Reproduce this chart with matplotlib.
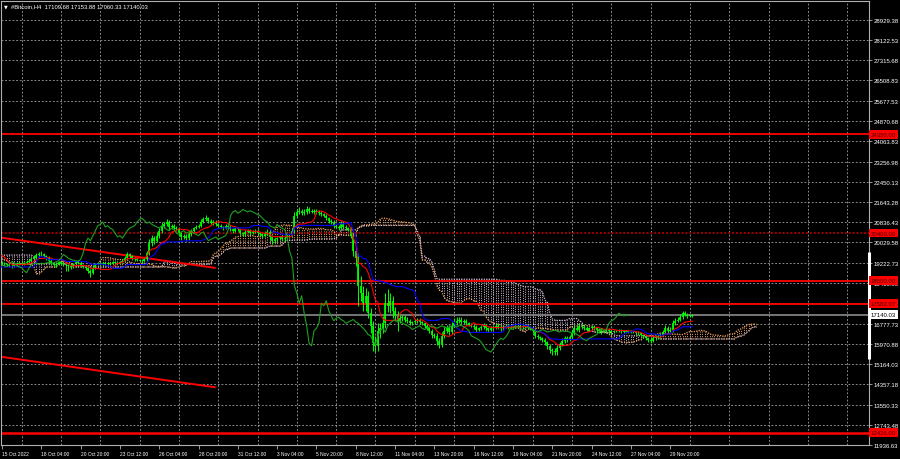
import numpy as np
import pandas as pd
import matplotlib
matplotlib.use('Agg')
import matplotlib.pyplot as plt
import matplotlib.transforms as mtransforms
from matplotlib import font_manager

# narrow terminal-like font if we have one
_names = {f.name for f in font_manager.fontManager.ttflist}
if 'Liberation Sans Narrow' in _names:
    FONT, FS_Y, FS_X, FS_T = 'Liberation Sans Narrow', 5.0, 4.0, 5.0
else:
    FONT, FS_Y, FS_X, FS_T = 'Liberation Sans', 4.3, 3.5, 4.2
plt.rcParams['font.family'] = [FONT, 'DejaVu Sans']

# ---------------- data ----------------
symbol = '#Bitcoin,H4'
last_ohlc = [17109.68, 17153.88, 17060.33, 17140.03]

start_time = '2022-10-15 12:00'   # first visible H4 bar
first_open = 19210.0

close = [
    19180, 19150, 19120, 19100, 19080, 19130, 19180, 19220, 19170, 19200, 19240, 19300, 19350, 19420, 19520, 19580,
    19550, 19480, 19420, 19300, 19200, 19120, 19180, 19230, 19210, 19150, 19120, 19100, 19060, 19150, 19260, 19220,
    19100, 19050, 19020, 18900, 18820, 19000, 19150, 19180, 19200, 19160, 19200, 19180, 19210, 19230, 19190, 19220,
    19250, 19300, 19400, 19550, 19480, 19400, 19350, 19320, 19300, 19280, 19350, 19600, 20000, 20200, 20100, 20300,
    20500, 20700, 20750, 20850, 20650, 20700, 20600, 20550, 20400, 20250, 20300, 20200, 20350, 20500, 20600, 20650,
    20700, 20850, 20950, 21000, 20900, 20800, 20850, 20750, 20700, 20650, 20600, 20700, 20650, 20550, 20500, 20600,
    20550, 20400, 20350, 20450, 20500, 20400, 20450, 20500, 20400, 20350, 20300, 20400, 20450, 20250, 20100, 20150,
    20200, 20250, 20150, 20200, 20250, 20300, 20500, 21100, 21250, 21300, 21200, 21250, 21350, 21300, 21250, 21300,
    21250, 21200, 21150, 21100, 21000, 20900, 20850, 20700, 20650, 20600, 20750, 20650, 20600, 20550, 20300, 19700,
    19400, 18300, 18000, 17600, 17900, 17200, 16700, 16000, 15900, 16500, 16600, 16800, 17600, 17500, 17700, 17300,
    17100, 16900, 17000, 17050, 16950, 16900, 16800, 16850, 16900, 16950, 16850, 16800, 16700, 16600, 16500, 16350,
    16300, 16100, 15950, 16300, 16500, 16600, 16450, 16700, 16800, 16900, 16950, 16850, 16900, 16800, 16750, 16700,
    16650, 16550, 16600, 16650, 16700, 16600, 16550, 16600, 16650, 16700, 16650, 16600, 16650, 16700, 16650, 16620,
    16650, 16700, 16680, 16650, 16700, 16720, 16650, 16600, 16500, 16300, 16250, 16200, 16150, 16050, 15900, 15750,
    15700, 15650, 15800, 15950, 16100, 16200, 16150, 16250, 16400, 16600, 16550, 16700, 16650, 16600, 16550, 16600,
    16650, 16600, 16550, 16500, 16450, 16500, 16550, 16500, 16450, 16480, 16500, 16520, 16480, 16450, 16500, 16470,
    16480, 16450, 16400, 16420, 16350, 16300, 16200, 16150, 16100, 16200, 16250, 16300, 16350, 16450, 16600, 16500,
    16550, 16800, 16900, 16950, 17050, 17200, 17150, 17100, 17109.68, 17140.03,
]

wick_up = [
    60, 50, 40, 60, 50, 70, 60, 80, 50, 60, 70, 60, 80, 90, 100, 80,
    90, 70, 60, 80, 60, 50, 70, 60, 50, 60, 50, 40, 60, 70, 80, 60,
    60, 50, 40, 50, 60, 80, 70, 60, 50, 40, 50, 40, 50, 60, 40, 50,
    50, 60, 80, 90, 60, 50, 40, 50, 40, 50, 60, 100, 150, 120, 100, 150,
    120, 150, 100, 120, 80, 70, 60, 80, 60, 50, 70, 60, 80, 70, 60, 80,
    80, 100, 90, 120, 60, 50, 70, 60, 50, 60, 50, 70, 50, 60, 50, 60,
    60, 50, 60, 70, 80, 60, 70, 60, 50, 60, 50, 80, 120, 100, 60, 50,
    60, 50, 70, 50, 60, 80, 100, 150, 120, 150, 80, 100, 120, 80, 70, 60,
    80, 60, 70, 50, 60, 50, 70, 60, 50, 60, 120, 80, 70, 60, 80, 150,
    100, 200, 400, 300, 300, 200, 200, 200, 300, 300, 200, 300, 400, 580, 300, 200,
    150, 200, 120, 100, 80, 100, 80, 60, 70, 80, 60, 50, 60, 70, 60, 80,
    80, 100, 120, 150, 200, 150, 120, 150, 200, 150, 120, 100, 80, 70, 60, 80,
    80, 70, 60, 90, 100, 70, 60, 80, 90, 100, 60, 50, 70, 80, 60, 50,
    50, 60, 40, 50, 60, 50, 40, 50, 60, 50, 60, 50, 60, 70, 60, 80,
    80, 100, 120, 100, 120, 100, 80, 100, 150, 120, 100, 120, 80, 70, 80, 60,
    80, 70, 60, 50, 60, 70, 80, 60, 50, 40, 50, 60, 50, 40, 50, 40,
    50, 60, 50, 60, 50, 40, 60, 50, 70, 80, 70, 60, 80, 100, 120, 80,
    100, 150, 120, 100, 120, 100, 80, 70, 60, 13.85,
]

wick_dn = [
    50, 60, 50, 40, 70, 50, 60, 40, 60, 50, 40, 60, 50, 60, 50, 60,
    70, 60, 80, 60, 70, 90, 60, 50, 70, 80, 250, 200, 80, 60, 50, 70,
    70, 60, 80, 100, 170, 60, 50, 40, 50, 60, 40, 50, 40, 50, 60, 40,
    40, 50, 60, 50, 60, 70, 50, 40, 50, 60, 40, 50, 80, 100, 120, 60,
    100, 80, 90, 70, 120, 80, 90, 60, 100, 120, 80, 100, 60, 70, 60, 50,
    60, 70, 50, 60, 80, 70, 60, 80, 50, 60, 70, 50, 60, 70, 80, 50,
    70, 80, 60, 50, 60, 70, 50, 60, 70, 60, 80, 50, 60, 120, 150, 80,
    80, 60, 70, 60, 50, 60, 70, 100, 80, 70, 90, 60, 70, 80, 60, 70,
    70, 80, 60, 70, 80, 90, 70, 80, 60, 70, 60, 80, 70, 60, 90, 200,
    300, 800, 300, 300, 300, 200, 300, 300, 250, 200, 300, 200, 200, 250, 300, 300,
    200, 400, 100, 120, 80, 90, 70, 80, 60, 70, 80, 60, 70, 80, 90, 120,
    100, 150, 150, 100, 80, 100, 120, 80, 60, 80, 100, 70, 60, 80, 70, 60,
    70, 100, 60, 70, 80, 90, 100, 60, 70, 60, 80, 90, 60, 50, 70, 60,
    40, 50, 60, 40, 50, 60, 70, 60, 80, 100, 80, 70, 80, 100, 120, 150,
    150, 120, 100, 80, 60, 80, 90, 70, 80, 60, 70, 80, 90, 60, 70, 60,
    60, 70, 80, 70, 60, 50, 60, 70, 60, 50, 40, 50, 60, 50, 40, 50,
    60, 50, 70, 50, 60, 70, 80, 100, 80, 60, 50, 60, 50, 60, 70, 80,
    60, 80, 70, 60, 50, 80, 60, 70, 50, 49.35,
]

# history before the visible window (6 Oct 20:00 .. 15 Oct 08:00), needed by the Ichimoku
pre_high = [20150,
            20050, 20000, 19900, 19700, 19550, 19500,
            19500, 19480, 19550, 19600, 19520, 19480,
            19450, 19500, 19480, 19470, 19500, 19520,
            19550, 19480, 19400, 19300, 19250, 19200,
            19150, 19100, 19050, 19100, 19150, 19130,
            19150, 19200, 19180, 19150, 19100, 19120,
            19150, 19100, 19050, 18900, 19200, 19500,
            19700, 19900, 19800, 19600, 19400, 19300,
            19250, 19230, 19220]
pre_low = [19950,
           19900, 19850, 19650, 19450, 19350, 19300,
           19350, 19380, 19420, 19450, 19400, 19350,
           19350, 19380, 19370, 19380, 19400, 19420,
           19400, 19300, 19200, 19100, 19080, 19050,
           18950, 18900, 18950, 18980, 19000, 19020,
           19050, 19050, 19080, 19050, 19000, 19020,
           19000, 18950, 18700, 18200, 18600, 19100,
           19400, 19600, 19500, 19300, 19150, 19100,
           19100, 19120, 19110]

date_labels = ['15 Oct 2022', '18 Oct 04:00', '20 Oct 20:00', '23 Oct 12:00', '26 Oct 04:00',
               '28 Oct 20:00', '31 Oct 12:00', '3 Nov 04:00', '5 Nov 20:00', '8 Nov 12:00',
               '11 Nov 04:00', '13 Nov 20:00', '16 Nov 12:00', '19 Nov 04:00', '21 Nov 20:00',
               '24 Nov 12:00', '27 Nov 04:00', '29 Nov 20:00']
date_times = ['2022-10-15 12:00', '2022-10-18 04:00', '2022-10-20 20:00', '2022-10-23 12:00',
              '2022-10-26 04:00', '2022-10-28 20:00', '2022-10-31 12:00', '2022-11-03 04:00',
              '2022-11-05 20:00', '2022-11-08 12:00', '2022-11-11 04:00', '2022-11-13 20:00',
              '2022-11-16 12:00', '2022-11-19 04:00', '2022-11-21 20:00', '2022-11-24 12:00',
              '2022-11-27 04:00', '2022-11-29 20:00']

price_ticks = [28929.38, 28122.53, 27315.68, 26508.83, 25677.53, 24870.68, 24063.83, 23256.98,
               22450.13, 21643.28, 20836.43, 20029.58, 19222.73, 18415.88, 17609.03, 16777.73,
               15970.88, 15164.03, 14357.18, 13550.33, 12743.48, 11936.63]

solid_levels = [24350.00, 18500.00, 17582.97, 12426.00]
dotted_levels = [20400.00]

trend_upper = [('2022-10-15 08:00', 20230), ('2022-10-30 00:00', 19010)]
trend_lower = [('2022-10-15 08:00', 15470), ('2022-10-30 00:00', 14240)]

scale_marker = [15370, 19640]

# ---------------- prep ----------------
close = np.array(close, float)
n = len(close)
opn = np.concatenate([[first_open], close[:-1]])
high = np.maximum(opn, close) + np.array(wick_up, float)
low = np.minimum(opn, close) - np.array(wick_dn, float)

t0 = pd.Timestamp(start_time)
def bar_of(ts):
    return (pd.Timestamp(ts) - t0) / pd.Timedelta('4h')

x = np.arange(n)

npre = len(pre_high)
H = pd.Series(np.concatenate([pre_high, high]))
L = pd.Series(np.concatenate([pre_low, low]))
x_all = np.arange(-npre, n)

def midline(p):
    return ((H.rolling(p, min_periods=1).max() + L.rolling(p, min_periods=1).min()) / 2).values

tenkan = midline(9)
kijun = midline(26)
span_a = (tenkan + kijun) / 2
span_b = midline(52)
x_span = x_all + 26

# ---------------- figure ----------------
BG = 'black'
LIME = '#00ff00'

fig = plt.figure(figsize=(9, 4.6), dpi=100, facecolor=BG)
ax = fig.add_axes([1 / 900, 14 / 460, 868 / 900, 444 / 460])
ax.set_facecolor(BG)

xmin, xmax = -0.41, 352.9
ax.set_xlim(xmin, xmax)
ax.set_ylim(11957, 29676)

# grid
gcol = '#a0a0a0'
for p in price_ticks:
    ax.axhline(p, color=gcol, lw=0.6, ls=(0, (2.2, 2.2)), zorder=0.5)
tick_x = np.array([bar_of(t) for t in date_times])
for gx in np.arange(tick_x[0] + 8, xmax, 16):
    ax.axvline(gx, color=gcol, lw=0.6, ls=(0, (2.2, 2.2)), zorder=0.5)

# cloud (dotted hatch between the spans)
up = span_a >= span_b
ax.vlines(x_span[up], span_b[up], span_a[up], color='#f4a460', lw=0.7,
          linestyles=(0, (1.0, 1.4)), zorder=1)
ax.vlines(x_span[~up], span_a[~up], span_b[~up], color='#d8bfd8', lw=0.7,
          linestyles=(0, (1.0, 1.4)), zorder=1)
ax.plot(x_span, span_a, color='#f4a460', lw=0.9, ls=(0, (1.0, 1.0)), zorder=1.2)
ax.plot(x_span, span_b, color='#d8bfd8', lw=0.9, ls=(0, (1.0, 1.0)), zorder=1.2)

# horizontal levels
for lv in solid_levels:
    lw = 1.8 if lv == min(solid_levels) else 1.3
    ax.axhline(lv, color='#ff0000', lw=lw, zorder=2)
for lv in dotted_levels:
    ax.axhline(lv, color='#a00000', lw=1.4, ls=(0, (1.0, 1.0)), zorder=2)
ax.axhline(last_ohlc[3], color='#808080', lw=1.3, zorder=2)

# trend lines
for tl in (trend_upper, trend_lower):
    ax.plot([bar_of(tl[0][0]), bar_of(tl[1][0])], [tl[0][1], tl[1][1]],
            color='#ff0000', lw=1.4, zorder=2.2, solid_capstyle='butt')

# candles
ax.vlines(x, low, high, color=LIME, lw=0.7, zorder=3)
body_lo = np.minimum(opn, close)
body_hi = np.maximum(np.maximum(opn, close), body_lo + 20)
ax.vlines(x, body_lo, body_hi, color=LIME, lw=1.25, zorder=3)

# ichimoku lines
ax.plot(x_all, tenkan, color='#ff0000', lw=0.8, zorder=4)
ax.plot(x_all, kijun, color='#0000ff', lw=0.8, zorder=4)
ax.plot(x - 26, close, color='#20a020', lw=0.8, zorder=4)

# axes styling
for s in ax.spines.values():
    s.set_color('#b0b0b0')
    s.set_linewidth(0.8)
ax.yaxis.tick_right()
ax.set_yticks(price_ticks)
ax.set_yticklabels(['%.2f' % p for p in price_ticks])
ax.set_xticks(tick_x)
ax.set_xticklabels(date_labels)
ax.tick_params(axis='y', colors='#b0b0b0', labelcolor='white', labelsize=FS_Y,
               length=2, width=0.6, pad=1.5)
ax.tick_params(axis='x', colors='#b0b0b0', labelcolor='white', labelsize=FS_X,
               length=3, width=0.6, pad=1.5)
for lab in ax.get_xticklabels():
    lab.set_horizontalalignment('left')

# price boxes on the scale
trans = mtransforms.blended_transform_factory(ax.transAxes, ax.transData)
for lv in solid_levels + dotted_levels:
    ax.text(1.002, lv, '%.2f' % lv, transform=trans, ha='left', va='center',
            fontsize=FS_Y, color='#4a0000', clip_on=False, zorder=10,
            bbox=dict(boxstyle='square,pad=0.3', fc='#ff0000', ec='none'))
ax.text(1.002, last_ohlc[3], '%.2f' % last_ohlc[3], transform=trans, ha='left', va='center',
        fontsize=FS_Y, color='black', clip_on=False, zorder=10,
        bbox=dict(boxstyle='square,pad=0.3', fc='white', ec='none'))

ax.plot([1.0, 1.0], scale_marker, transform=trans, color='white', lw=2.2,
        clip_on=False, zorder=9, solid_capstyle='butt')

# header
ax.text(0.003, 1 - 4.5 / 444, '\u25bc', transform=ax.transAxes, ha='left', va='center',
        fontsize=3.5, color='white', family='DejaVu Sans')
ax.text(0.011, 1 - 4.5 / 444, '%s  %.2f %.2f %.2f %.2f' % ((symbol,) + tuple(last_ohlc)),
        transform=ax.transAxes, ha='left', va='center', fontsize=FS_T, color='white')

fig.savefig('out.png', dpi=100, facecolor=BG)
